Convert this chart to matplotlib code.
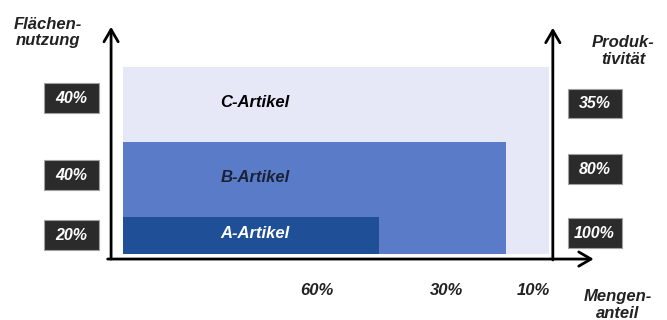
import matplotlib.pyplot as plt
from matplotlib.patches import Rectangle

# data
articles = ['A-Artikel', 'B-Artikel', 'C-Artikel']
mengenanteil = [60, 30, 10]          # % of quantity
flaechennutzung = [20, 40, 40]       # % of floor space
produktivitaet = ['100%', '80%', '35%']
colors = ['#1f4f96', '#5a7cc8', '#e6e8f8']
text_colors = ['white', '#1a2238', 'black']

W, H = 667, 320
fig = plt.figure(figsize=(W / 100, H / 100), dpi=100)
# axes area = the stacked rectangles (pixels 123..549 x 67..254)
ax = fig.add_axes([123 / W, (H - 254) / H, 426 / W, 187 / H])
ax.set_xlim(0, 100)
ax.set_ylim(0, 100)
ax.axis('off')

cum_x = [sum(mengenanteil[:i + 1]) for i in range(3)]
cum_y = [sum(flaechennutzung[:i + 1]) for i in range(3)]
bottoms = [0] + cum_y[:-1]

# draw from largest (C) to smallest (A) so they overlap
for i in reversed(range(3)):
    ax.bar(0, cum_y[i], width=cum_x[i], align='edge', color=colors[i], zorder=1 + (2 - i))

font = dict(fontweight='bold', fontstyle='italic', family='Liberation Sans')

# labels inside rectangles
for i in range(3):
    ymid = (bottoms[i] + cum_y[i]) / 2
    ax.text(31, ymid + 1, articles[i], ha='center', va='center', fontsize=12,
            color=text_colors[i], zorder=10, **font)

# axes arrows
arrow = dict(arrowstyle='->,head_length=0.55,head_width=0.32', color='black', lw=2.0,
             mutation_scale=16, shrinkA=0, shrinkB=0)
ax.annotate('', xy=(-2.8, 121.5), xytext=(-2.8, -2.7), arrowprops=arrow,
            annotation_clip=False)
ax.annotate('', xy=(110.5, -2.7), xytext=(-3.6, -2.7), arrowprops=arrow,
            annotation_clip=False)
ax.annotate('', xy=(100.9, 121), xytext=(100.9, -3.2), arrowprops=arrow,
            annotation_clip=False)


def box(x, y, s):
    bw, bh = 12.7, 16
    ax.add_patch(Rectangle((x - bw / 2, y - bh / 2), bw, bh, fc='#2b2b2b',
                           ec='#a0a0a0', lw=0.8, clip_on=False, zorder=9))
    ax.text(x, y, s, ha='center', va='center', fontsize=11.5, color='white',
            zorder=10, clip_on=False, **font)


# left boxes: Flächennutzung; right boxes: Produktivität
left_offsets = [0, 2.1, 3.2]
right_offsets = [1.1, 5.3, 0.5]
for i in range(3):
    ymid = (bottoms[i] + cum_y[i]) / 2
    box(-12.1, ymid + left_offsets[i], f'{flaechennutzung[i]}%')
    box(110.7, ymid + right_offsets[i], produktivitaet[i])

# bottom labels: Mengenanteil
bottom_x = [45.6, 76.0, 96.3]
for i in range(3):
    ax.text(bottom_x[i], -19.5, f'{mengenanteil[i]}%', ha='center', va='center',
            fontsize=12, color='#222222', clip_on=False, **font)

# axis titles
title = dict(ha='center', va='center', fontsize=12, color='#222222',
             linespacing=1.15, clip_on=False, **font)
ax.text(-17.7, 118.5, 'Flächen-\nnutzung', **title)
ax.text(117.4, 108.5, 'Produk-\ntivität', **title)
ax.text(116.2, -27.3, 'Mengen-\nanteil', **title)

fig.savefig('out.png', dpi=100)
